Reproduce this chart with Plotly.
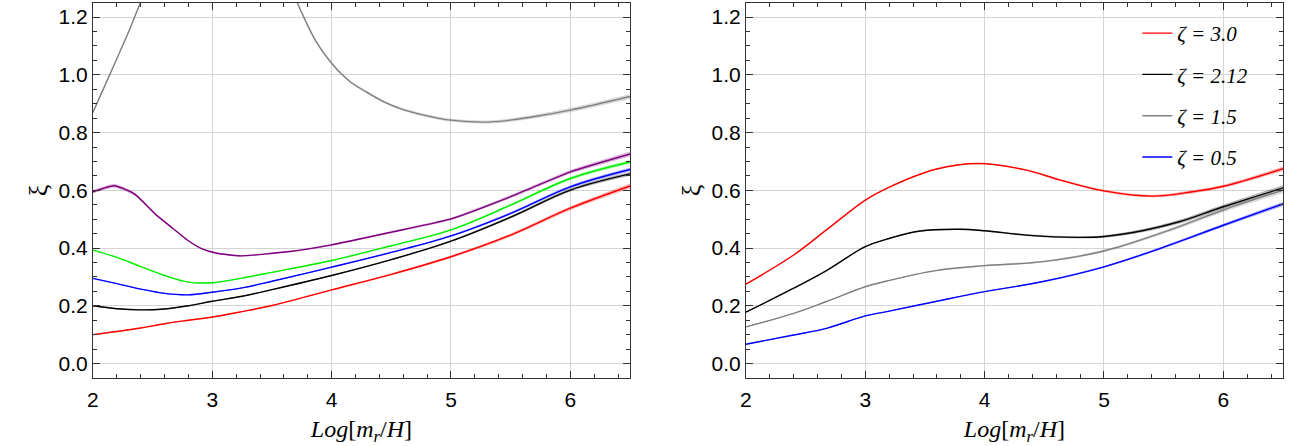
import plotly.graph_objects as go

# ---------------- Left panel data ----------------
xL = [2.0, 2.2, 2.4, 2.6, 2.8, 3.0, 3.25, 3.5, 4.0, 4.5, 5.0, 5.5, 6.0, 6.5]
red_L = [0.100, 0.111, 0.123, 0.138, 0.150, 0.161, 0.180, 0.201, 0.255, 0.309, 0.370, 0.445, 0.538, 0.615]
black_L = [0.200, 0.190, 0.186, 0.189, 0.200, 0.216, 0.233, 0.256, 0.305, 0.360, 0.424, 0.507, 0.601, 0.657]
blue_L = [0.295, 0.277, 0.258, 0.243, 0.238, 0.247, 0.262, 0.285, 0.334, 0.385, 0.442, 0.520, 0.612, 0.672]
green_L = [0.393, 0.368, 0.336, 0.305, 0.282, 0.280, 0.296, 0.316, 0.357, 0.408, 0.463, 0.549, 0.641, 0.698]
err_red_L = [0, 0, 0, 0, 0, 0, 0, 0, 0.001, 0.002, 0.003, 0.004, 0.005, 0.007]
err_black_L = [0, 0, 0, 0, 0, 0, 0, 0, 0.001, 0.001, 0.002, 0.003, 0.004, 0.005]
err_blue_L = [0, 0, 0, 0, 0, 0, 0, 0, 0.001, 0.001, 0.002, 0.003, 0.004, 0.005]
err_green_L = [0, 0, 0, 0, 0, 0, 0, 0, 0.001, 0.001, 0.002, 0.003, 0.004, 0.005]

xL_purple = [2.0, 2.18, 2.35, 2.53, 2.67, 2.79, 2.92, 3.04, 3.23, 3.65, 4.0, 4.5, 5.0, 5.5, 6.0, 6.5]
purple_L = [0.595, 0.616, 0.587, 0.515, 0.468, 0.428, 0.396, 0.382, 0.373, 0.388, 0.411, 0.455, 0.501, 0.578, 0.664, 0.726]
err_purple_L = [0.004, 0.005, 0.004, 0.002, 0.001, 0.001, 0.001, 0.001, 0.001, 0.001, 0.002, 0.002, 0.003, 0.004, 0.005, 0.007]

xL_gray = [2.0, 2.14, 2.3, 2.45, 2.7, 3.05, 3.4, 3.62, 3.74, 3.87, 4.0, 4.15, 4.29, 4.43, 4.57, 4.8, 5.0, 5.34, 5.69, 6.0, 6.5]
gray_L = [0.87, 1.00, 1.15, 1.30, 1.50, 1.62, 1.55, 1.34, 1.224, 1.115, 1.04, 0.978, 0.941, 0.908, 0.884, 0.858, 0.843, 0.837, 0.855, 0.878, 0.925]
err_gray_L = [0, 0, 0, 0, 0, 0, 0, 0, 0.001, 0.002, 0.002, 0.002, 0.003, 0.003, 0.003, 0.004, 0.004, 0.004, 0.005, 0.006, 0.007]

# ---------------- Right panel data ----------------
xR_red = [2.0, 2.4, 2.675, 3.0, 3.18, 3.59, 3.95, 4.35, 4.63, 5.0, 5.41, 5.74, 6.0, 6.5]
red_R = [0.275, 0.376, 0.463, 0.566, 0.607, 0.673, 0.693, 0.670, 0.636, 0.598, 0.580, 0.595, 0.614, 0.675]
err_red_R = [0, 0, 0, 0, 0, 0, 0, 0.001, 0.002, 0.003, 0.003, 0.004, 0.004, 0.006]

xR_black = [2.0, 2.4, 2.675, 3.0, 3.18, 3.46, 3.79, 4.0, 4.35, 4.77, 5.0, 5.32, 5.63, 6.0, 6.5]
black_R = [0.178, 0.261, 0.322, 0.405, 0.431, 0.459, 0.465, 0.460, 0.445, 0.437, 0.440, 0.460, 0.491, 0.543, 0.608]
err_black_R = [0, 0, 0, 0, 0, 0.001, 0.001, 0.001, 0.002, 0.002, 0.003, 0.004, 0.005, 0.006, 0.008]

xR_gray = [2.0, 2.4, 2.675, 3.0, 3.18, 3.59, 4.0, 4.49, 5.0, 5.5, 6.0, 6.5]
gray_R = [0.127, 0.174, 0.215, 0.266, 0.286, 0.322, 0.339, 0.353, 0.390, 0.455, 0.532, 0.600]
err_gray_R = [0, 0, 0, 0, 0, 0.001, 0.001, 0.002, 0.003, 0.004, 0.006, 0.008]

xR_blue = [2.0, 2.4, 2.675, 3.0, 3.18, 3.59, 4.0, 4.49, 5.0, 5.5, 6.0, 6.5]
blue_R = [0.067, 0.099, 0.122, 0.165, 0.180, 0.215, 0.249, 0.284, 0.335, 0.403, 0.479, 0.553]
err_blue_R = [0, 0, 0, 0, 0, 0, 0, 0.001, 0.002, 0.003, 0.004, 0.006]

legend_labels = ["ζ = 3.0", "ζ = 2.12", "ζ = 1.5", "ζ = 0.5"]

x_ticks = [2, 3, 4, 5, 6]
y_ticks = [0.0, 0.2, 0.4, 0.6, 0.8, 1.0, 1.2]

RED = "#ff0000"
BLACK = "#000000"
BLUE = "#0000ff"
GREEN = "#00ee00"
PURPLE = "#800080"
GRAY = "#808080"


def rgba(hexc, a):
    h = hexc.lstrip("#")
    r, g, b = int(h[0:2], 16), int(h[2:4], 16), int(h[4:6], 16)
    return f"rgba({r},{g},{b},{a})"


fig = go.Figure()


def add_curve(x, y, err, color, xa, ya, name=None, show=False, group=None, smooth=1.0):
    lo = [v - e for v, e in zip(y, err)]
    hi = [v + e for v, e in zip(y, err)]
    fig.add_trace(go.Scatter(x=x, y=lo, xaxis=xa, yaxis=ya, mode="lines",
                             line=dict(color=rgba(color, 0.35), width=0.6, shape="spline", smoothing=smooth),
                             showlegend=False, hoverinfo="skip"))
    fig.add_trace(go.Scatter(x=x, y=hi, xaxis=xa, yaxis=ya, mode="lines", fill="tonexty",
                             fillcolor=rgba(color, 0.22),
                             line=dict(color=rgba(color, 0.35), width=0.6, shape="spline", smoothing=smooth),
                             showlegend=False, hoverinfo="skip"))
    fig.add_trace(go.Scatter(x=x, y=y, xaxis=xa, yaxis=ya, mode="lines",
                             line=dict(color=color, width=1.4, shape="spline", smoothing=smooth),
                             name=name, showlegend=show, legendgroup=group))


# left panel
add_curve(xL_gray, gray_L, err_gray_L, GRAY, "x", "y")
add_curve(xL_purple, purple_L, err_purple_L, PURPLE, "x", "y", smooth=0.5)
add_curve(xL, green_L, err_green_L, GREEN, "x", "y")
add_curve(xL, blue_L, err_blue_L, BLUE, "x", "y")
add_curve(xL, black_L, err_black_L, BLACK, "x", "y")
add_curve(xL, red_L, err_red_L, RED, "x", "y")

# right panel (legend order)
add_curve(xR_red, red_R, err_red_R, RED, "x2", "y2", "<i>" + legend_labels[0] + "</i>", True, "g1")
add_curve(xR_black, black_R, err_black_R, BLACK, "x2", "y2", "<i>" + legend_labels[1] + "</i>", True, "g2")
add_curve(xR_gray, gray_R, err_gray_R, GRAY, "x2", "y2", "<i>" + legend_labels[2] + "</i>", True, "g3")
add_curve(xR_blue, blue_R, err_blue_R, BLUE, "x2", "y2", "<i>" + legend_labels[3] + "</i>", True, "g4")

FRAME = "#333333"
GRID = "#d4d4d4"
tickfont = dict(family="Liberation Sans, Arial, sans-serif", size=21, color="black")
titlefont = dict(family="Liberation Serif, Times New Roman, serif", size=24, color="black")

xtitle = "<i>Log</i>[<i>m</i><sub><i>r</i></sub>/<i>H</i>]"


def xaxis(domain, anchor):
    return dict(domain=domain, anchor=anchor, range=[2, 6.5], tickvals=x_ticks,
                ticks="inside", ticklen=7, tickwidth=1, tickcolor=FRAME,
                showline=True, linecolor=FRAME, linewidth=1, mirror="allticks",
                showgrid=True, gridcolor=GRID, gridwidth=1, zeroline=False,
                minor=dict(ticks="inside", ticklen=4, tickwidth=1, tickcolor=FRAME,
                           dtick=0.2, tick0=2, showgrid=False),
                tickfont=tickfont, ticklabelstandoff=3,
                title=dict(text=xtitle, font=titlefont, standoff=15), automargin=False)


def yaxis(anchor):
    return dict(domain=[0.1525, 0.994], anchor=anchor, range=[-0.05, 1.25], tickvals=y_ticks,
                tickformat=".1f",
                ticks="inside", ticklen=7, tickwidth=1, tickcolor=FRAME,
                showline=True, linecolor=FRAME, linewidth=1, mirror="allticks",
                showgrid=True, gridcolor=GRID, gridwidth=1, zeroline=False,
                minor=dict(ticks="inside", ticklen=4, tickwidth=1, tickcolor=FRAME,
                           dtick=0.05, tick0=0, showgrid=False),
                tickfont=tickfont, ticklabelstandoff=0,
                title=dict(text="ξ", font=dict(family="Liberation Serif, serif", size=26, color="black"),
                           standoff=3), automargin=False)


fig.update_layout(
    width=1291, height=446,
    margin=dict(l=0, r=0, t=0, b=0),
    paper_bgcolor="white", plot_bgcolor="white",
    xaxis=xaxis([0.0720, 0.4880], "y"),
    yaxis=yaxis("x"),
    xaxis2=xaxis([0.5778, 0.9938], "y2"),
    yaxis2=yaxis("x2"),
    legend=dict(x=0.881, y=0.971, xanchor="left", yanchor="top",
                bgcolor="rgba(0,0,0,0)", borderwidth=0,
                font=dict(family="Liberation Serif, Times New Roman, serif", size=21, color="black"),
                tracegroupgap=11, itemwidth=30),
    showlegend=True,
)

fig.write_html("out.html", config={"displayModeBar": False},
               post_script="document.body.style.margin='0';document.body.style.padding='0';")
